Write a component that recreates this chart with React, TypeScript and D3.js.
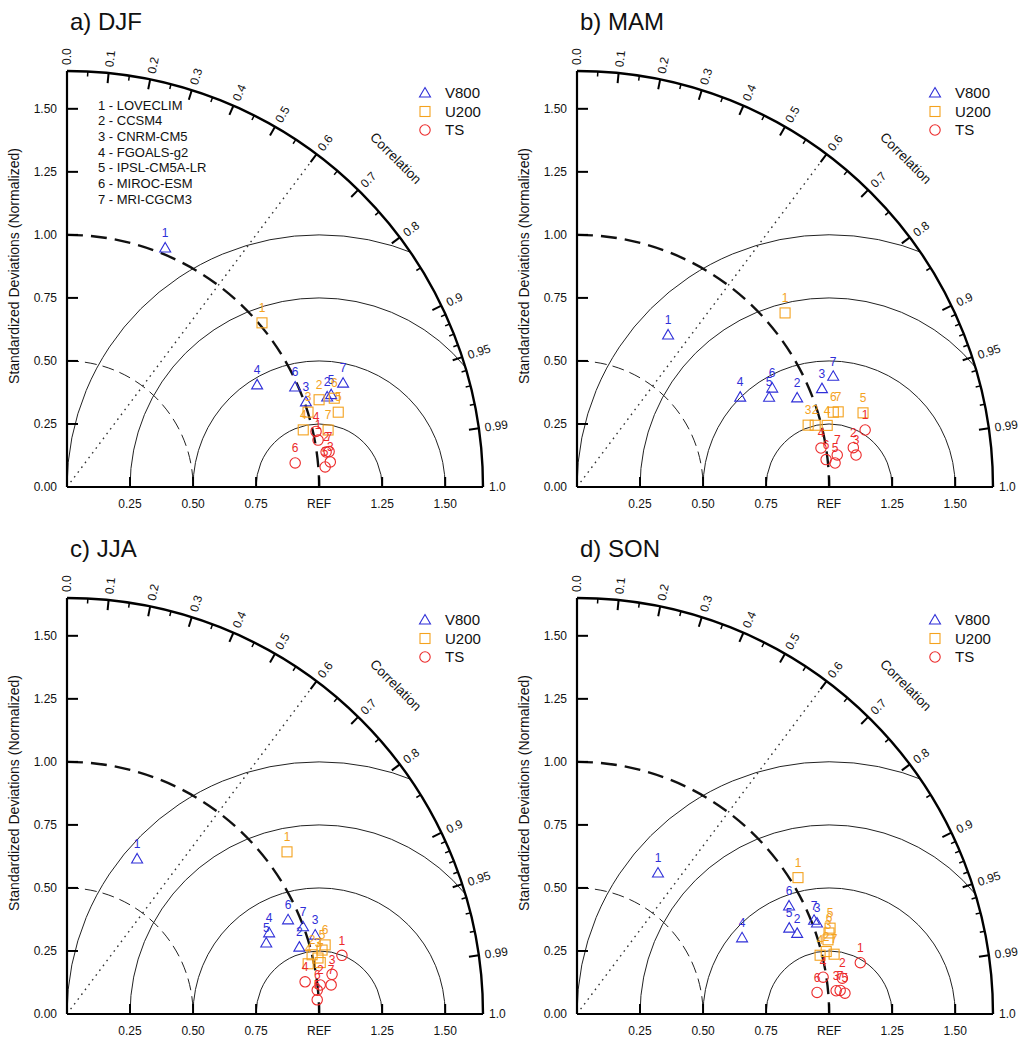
import React from 'react';
import * as d3 from 'd3';

const MODELS = ['LOVECLIM', 'CCSM4', 'CNRM-CM5', 'FGOALS-g2', 'IPSL-CM5A-LR', 'MIROC-ESM', 'MRI-CGCM3'];
const VARIABLES = ['V800', 'U200', 'TS'];
const VAR_COLORS = ['#2f2fd8', '#f4a21e', '#ec2a2a'];
const TITLES = ['a) DJF', 'b) MAM', 'c) JJA', 'd) SON'];

// normalized standard deviation and correlation, per model (1..7)
const DJF_V800_STD = [1.025, 1.092, 1.006, 0.856, 1.110, 0.988, 1.170];
const DJF_V800_COR = [0.380, 0.945, 0.942, 0.881, 0.944, 0.916, 0.936];
const DJF_U200_STD = [1.011, 1.058, 1.001, 0.964, 1.116, 1.117, 1.060];
const DJF_U200_COR = [0.765, 0.945, 0.955, 0.972, 0.964, 0.949, 0.977];
const DJF_TS_STD = [1.013, 1.037, 1.049, 1.012, 1.027, 0.910, 1.049];
const DJF_TS_COR = [0.983, 0.991, 0.9955, 0.976, 0.997, 0.9945, 0.991];

const MAM_V800_STD = [0.703, 0.942, 1.047, 0.739, 0.841, 0.868, 1.107];
const MAM_V800_COR = [0.514, 0.927, 0.928, 0.876, 0.906, 0.892, 0.918];
const MAM_U200_STD = [1.076, 0.976, 0.949, 1.022, 1.172, 1.059, 1.078];
const MAM_U200_COR = [0.767, 0.968, 0.966, 0.971, 0.968, 0.960, 0.961];
const MAM_TS_STD = [1.165, 1.107, 1.114, 0.980, 1.028, 0.994, 1.040];
const MAM_TS_COR = [0.981, 0.990, 0.9935, 0.9875, 0.9957, 0.994, 0.9925];

const JJA_V800_STD = [0.675, 0.959, 1.033, 0.864, 0.839, 0.953, 0.998];
const JJA_V800_COR = [0.412, 0.961, 0.953, 0.928, 0.942, 0.920, 0.938];
const JJA_U200_STD = [1.084, 1.000, 1.020, 0.977, 1.043, 1.060, 1.025];
const JJA_U200_COR = [0.805, 0.972, 0.976, 0.979, 0.970, 0.966, 0.980];
const JJA_TS_STD = [1.115, 1.011, 1.063, 0.953, 0.994, 0.997, 1.054];
const JJA_TS_COR = [0.978, 0.9935, 0.989, 0.991, 0.9984, 0.9955, 0.994];

const SON_V800_STD = [0.645, 0.930, 1.018, 0.721, 0.908, 0.944, 1.011];
const SON_V800_COR = [0.498, 0.939, 0.935, 0.908, 0.927, 0.891, 0.930];
const SON_U200_STD = [1.030, 1.019, 1.038, 0.992, 1.060, 1.050, 1.047];
const SON_U200_COR = [0.851, 0.970, 0.959, 0.972, 0.947, 0.952, 0.974];
const SON_TS_STD = [1.142, 1.062, 1.032, 0.987, 1.066, 0.956, 1.048];
const SON_TS_COR = [0.984, 0.991, 0.996, 0.989, 0.997, 0.996, 0.996];

const SEASON_DATA = [
  [[DJF_V800_STD, DJF_V800_COR], [DJF_U200_STD, DJF_U200_COR], [DJF_TS_STD, DJF_TS_COR]],
  [[MAM_V800_STD, MAM_V800_COR], [MAM_U200_STD, MAM_U200_COR], [MAM_TS_STD, MAM_TS_COR]],
  [[JJA_V800_STD, JJA_V800_COR], [JJA_U200_STD, JJA_U200_COR], [JJA_TS_STD, JJA_TS_COR]],
  [[SON_V800_STD, SON_V800_COR], [SON_U200_STD, SON_U200_COR], [SON_TS_STD, SON_TS_COR]],
];

const STD_TICKS = [0, 0.25, 0.5, 0.75, 1.0, 1.25, 1.5];
const X_TICK_LABELS = ['0.25', '0.50', '0.75', 'REF', '1.25', '1.50'];
const COR_MAJOR = [0.1, 0.2, 0.3, 0.4, 0.5, 0.6, 0.7, 0.8, 0.9, 0.95, 0.99];
const COR_MINOR = [0.05, 0.15, 0.25, 0.35, 0.45, 0.55, 0.65, 0.75, 0.85, 0.91, 0.92, 0.93, 0.94, 0.96, 0.97, 0.98];
const COR_LABELS = [0.0, 0.1, 0.2, 0.3, 0.4, 0.5, 0.6, 0.7, 0.8, 0.9, 0.95, 0.99, 1.0];
const RMS_CIRCLES = [0.25, 0.5, 0.75, 1.0];

const RMAX = 1.65;
const FONT = '"Liberation Sans", Arial, Helvetica, sans-serif';

function corLabel(c: number) {
  if (c === 0.95 || c === 0.99) return c.toFixed(2);
  return c.toFixed(1);
}

function Marker({ kind, x, y, color }: { kind: number; x: number; y: number; color: string }) {
  if (kind === 0) {
    const p = d3.path();
    p.moveTo(x, y - 5.5);
    p.lineTo(x + 5.5, y + 4);
    p.lineTo(x - 5.5, y + 4);
    p.closePath();
    return <path d={p.toString()} fill="none" stroke={color} strokeWidth={1.1} />;
  }
  if (kind === 1) {
    return <rect x={x - 5} y={y - 5} width={10} height={10} fill="none" stroke={color} strokeWidth={1.1} />;
  }
  return <circle cx={x} cy={y} r={5.2} fill="none" stroke={color} strokeWidth={1.1} />;
}

function Panel({ idx, ox, oy }: { idx: number; ox: number; oy: number }) {
  const s = d3.scaleLinear().domain([0, RMAX]).range([0, 416]);
  const RS = s(RMAX);
  const pol = (r: number, c: number, extra = 0) => {
    const th = Math.acos(c);
    const rr = s(r) + extra;
    return [ox + rr * Math.cos(th), oy - rr * Math.sin(th)];
  };
  const clipId = `clip${idx}`;
  const series = SEASON_DATA[idx];
  const arcPath = (r: number) => {
    const p = d3.path();
    p.moveTo(ox, oy - s(r));
    p.arc(ox, oy, s(r), -Math.PI / 2, 0, false);
    return p.toString();
  };
  const rmsPath = (rho: number) => {
    const p = d3.path();
    const cx = ox + s(1);
    p.moveTo(cx - s(rho), oy);
    p.arc(cx, oy, s(rho), Math.PI, 2 * Math.PI, false);
    return p.toString();
  };
  const quarter = () => {
    const p = d3.path();
    p.moveTo(ox, oy);
    p.lineTo(ox, oy - RS);
    p.arc(ox, oy, RS, -Math.PI / 2, 0, false);
    p.closePath();
    return p.toString();
  };
  const rayEnd = pol(RMAX, 0.6);
  const corrPos = pol(1.845, Math.cos(Math.PI / 4));
  const legX = ox + 358;
  const legY = oy - 394;
  return (
    <g fontFamily={FONT}>
      <defs>
        <clipPath id={clipId}>
          <path d={quarter()} />
        </clipPath>
      </defs>
      <text x={ox + 3} y={oy - 457} fontSize={24} fill="#111">{TITLES[idx]}</text>
      {/* RMS circles */}
      <g clipPath={`url(#${clipId})`}>
        {RMS_CIRCLES.map((rho) => (
          <path key={rho} d={rmsPath(rho)} fill="none" stroke="#222" strokeWidth={1} />
        ))}
      </g>
      {/* std reference arcs */}
      <path d={arcPath(0.5)} fill="none" stroke="#222" strokeWidth={1} strokeDasharray="12,6" />
      <path d={arcPath(1.0)} fill="none" stroke="#111" strokeWidth={2.4} strokeDasharray="16,8" />
      {/* correlation ray */}
      <line x1={ox} y1={oy} x2={rayEnd[0]} y2={rayEnd[1]} stroke="#333" strokeWidth={1.4} strokeDasharray="1.6,4.4" />
      {/* axes */}
      <line x1={ox} y1={oy} x2={ox} y2={oy - RS} stroke="#000" strokeWidth={2.2} />
      <line x1={ox} y1={oy} x2={ox + RS} y2={oy} stroke="#000" strokeWidth={2.2} />
      <path d={arcPath(RMAX)} fill="none" stroke="#000" strokeWidth={2.4} />
      {STD_TICKS.map((v) => (
        <g key={`y${v}`}>
          {v > 0 && <line x1={ox} x2={ox + 11} y1={oy - s(v)} y2={oy - s(v)} stroke="#000" strokeWidth={2} />}
          <text x={ox - 10} y={oy - s(v)} dy="0.35em" textAnchor="end" fontSize={12} fill="#111">{v.toFixed(2)}</text>
        </g>
      ))}
      {STD_TICKS.slice(1).map((v, i) => (
        <g key={`x${v}`}>
          <line x1={ox + s(v)} x2={ox + s(v)} y1={oy} y2={oy - 10} stroke="#000" strokeWidth={2} />
          <text x={ox + s(v)} y={oy + 21} textAnchor="middle" fontSize={12} fill="#111">{X_TICK_LABELS[i]}</text>
        </g>
      ))}
      {COR_MAJOR.map((c) => {
        const a = pol(RMAX, c);
        const b = pol(RMAX, c, -10);
        return <line key={`M${c}`} x1={a[0]} y1={a[1]} x2={b[0]} y2={b[1]} stroke="#000" strokeWidth={2} />;
      })}
      {COR_MINOR.map((c) => {
        const a = pol(RMAX, c);
        const b = pol(RMAX, c, -5);
        return <line key={`m${c}`} x1={a[0]} y1={a[1]} x2={b[0]} y2={b[1]} stroke="#000" strokeWidth={1.5} />;
      })}
      {COR_LABELS.map((c) => {
        const p = pol(RMAX, c, 6);
        const deg = (Math.acos(c) * 180) / Math.PI;
        return (
          <text key={`l${c}`} x={p[0]} y={p[1]} dy="0.35em" fontSize={12} fill="#111"
            transform={`rotate(${-deg},${p[0]},${p[1]})`}>{corLabel(c)}</text>
        );
      })}
      <text x={corrPos[0]} y={corrPos[1]} dy="0.35em" textAnchor="middle" fontSize={13.5} fill="#111"
        transform={`rotate(45,${corrPos[0]},${corrPos[1]})`}>Correlation</text>
      <text x={ox - 53} y={oy - 221} dy="0.35em" textAnchor="middle" fontSize={14} fill="#111"
        transform={`rotate(-90,${ox - 53},${oy - 221})`}>Standardized Deviations (Normalized)</text>
      {/* variable legend */}
      {VARIABLES.map((v, k) => (
        <g key={v}>
          <Marker kind={k} x={legX} y={legY + k * 18.5} color={VAR_COLORS[k]} />
          <text x={legX + 20} y={legY + k * 18.5} dy="0.35em" fontSize={15} fill="#111">{v}</text>
        </g>
      ))}
      {idx === 0 && MODELS.map((m, i) => (
        <text key={m} x={ox + 31} y={oy - 382 + i * 15.7} dy="0.35em" fontSize={13} fill="#111">{`${i + 1} - ${m}`}</text>
      ))}
      {/* data */}
      {series.map(([stds, cors], k) => (
        <g key={`s${k}`}>
          {stds.map((r, i) => {
            const p = pol(r, cors[i]);
            return (
              <g key={i}>
                <Marker kind={k} x={p[0]} y={p[1]} color={VAR_COLORS[k]} />
                <text x={p[0]} y={p[1] - 15} dy="0.35em" textAnchor="middle" fontSize={12} fill={VAR_COLORS[k]}>{i + 1}</text>
              </g>
            );
          })}
        </g>
      ))}
    </g>
  );
}

export default function App() {
  const origins = [
    [67, 487],
    [577, 487],
    [67, 1014],
    [577, 1014],
  ];
  return (
    <svg width={1028} height={1039} style={{ position: 'absolute', left: 0, top: 0, background: '#fff' }}>
      <rect width={1028} height={1039} fill="#fff" />
      {origins.map(([ox, oy], i) => (
        <Panel key={i} idx={i} ox={ox} oy={oy} />
      ))}
    </svg>
  );
}
